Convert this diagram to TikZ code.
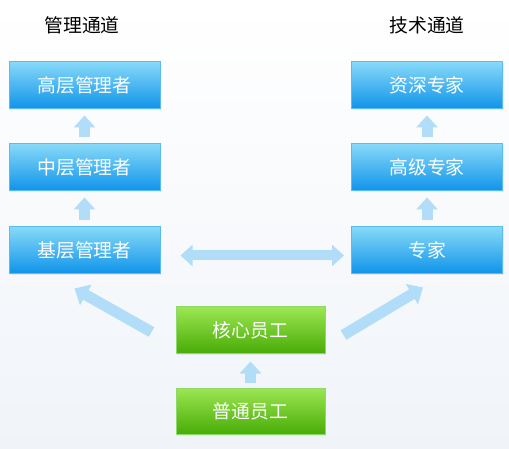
\documentclass[tikz,border=0pt]{standalone}
\usepackage{fontspec}
\usepackage{xcolor}
\usepackage{tikz}
\usetikzlibrary{positioning,arrows.meta,shadows}
\setmainfont{Noto Sans CJK SC}

\definecolor{bluetop}{HTML}{86D9F8}
\definecolor{bluebot}{HTML}{0F93EA}
\definecolor{blueline}{HTML}{5BBBEF}
\definecolor{greentop}{HTML}{9CE652}
\definecolor{greenbot}{HTML}{49AC07}
\definecolor{greenline}{HTML}{8FD86A}
\definecolor{arrowblue}{HTML}{B2DDF8}
\definecolor{bgtop}{HTML}{FFFFFF}
\definecolor{bgbot}{HTML}{F0F4F9}

\begin{document}
\begin{tikzpicture}[x=1pt,y=-1pt]
\tikzstyle{box} = [rectangle, minimum width=151pt, minimum height=47pt, inner sep=0pt, text centered, text=white, font=\fontsize{18.8}{20}\selectfont, draw=blueline, line width=1pt, top color=bluetop, bottom color=bluebot, drop shadow={opacity=0.12, shadow xshift=1pt, shadow yshift=-1.5pt}]
\tikzstyle{staff} = [box, minimum width=149pt, minimum height=46pt, draw=greenline, top color=greentop, bottom color=greenbot]
\tikzstyle{title} = [font=\fontsize{18.8}{20}\selectfont, text=black]
\tikzstyle{uparrow} = [draw=arrowblue, line width=11pt, -{Triangle[width=21pt,length=12pt]}]
\tikzstyle{bigarrow} = [draw=arrowblue, line width=11pt, -{Triangle[width=23pt,length=13pt]}]
\tikzstyle{dblarrow} = [draw=arrowblue, line width=10pt, {Triangle[width=21pt,length=12pt]}-{Triangle[width=21pt,length=12pt]}]

% Background
\shade[top color=bgtop, bottom color=bgbot] (0,0) rectangle (509,449);
\useasboundingbox (0,0) rectangle (509,449);

% Titles
\node (mtitle) [title] at (82,25) {管理通道};
\node (ttitle) [title] at (427,25) {技术通道};

% Nodes
\node (gaoceng) [box] at (84.5,85.5) {高层管理者};
\node (zhongceng) [box, below=34pt of gaoceng] {中层管理者};
\node (jiceng) [box, below=35pt of zhongceng] {基层管理者};
\node (zishen) [box] at (427,85.5) {资深专家};
\node (gaoji) [box, below=34pt of zishen] {高级专家};
\node (zhuanjia) [box, below=35pt of gaoji] {专家};
\node (hexin) [staff] at (250.5,330) {核心员工};
\node (putong) [staff, below=34pt of hexin] {普通员工};

% Arrows
\draw [uparrow, shorten <=6pt, shorten >=6pt] (zhongceng) -- (gaoceng);
\draw [uparrow, shorten <=6pt, shorten >=6pt] (jiceng) -- (zhongceng);
\draw [uparrow, shorten <=6pt, shorten >=6pt] (gaoji) -- (zishen);
\draw [uparrow, shorten <=6pt, shorten >=6pt] (zhuanjia) -- (gaoji);
\draw [uparrow, shorten <=5pt, shorten >=8pt] (putong) -- (hexin);
\draw [dblarrow] ([xshift=20pt,yshift=-5pt]jiceng.east) -- ([xshift=-7pt,yshift=-5pt]zhuanjia.west);
\draw [bigarrow] ([xshift=-24pt,yshift=-2pt]hexin.west) -- ([xshift=-10pt,yshift=-14pt]jiceng.south);
\draw [bigarrow] ([xshift=18pt,yshift=-5pt]hexin.east) -- ([xshift=-4pt,yshift=-13pt]zhuanjia.south);

\end{tikzpicture}
\end{document}
